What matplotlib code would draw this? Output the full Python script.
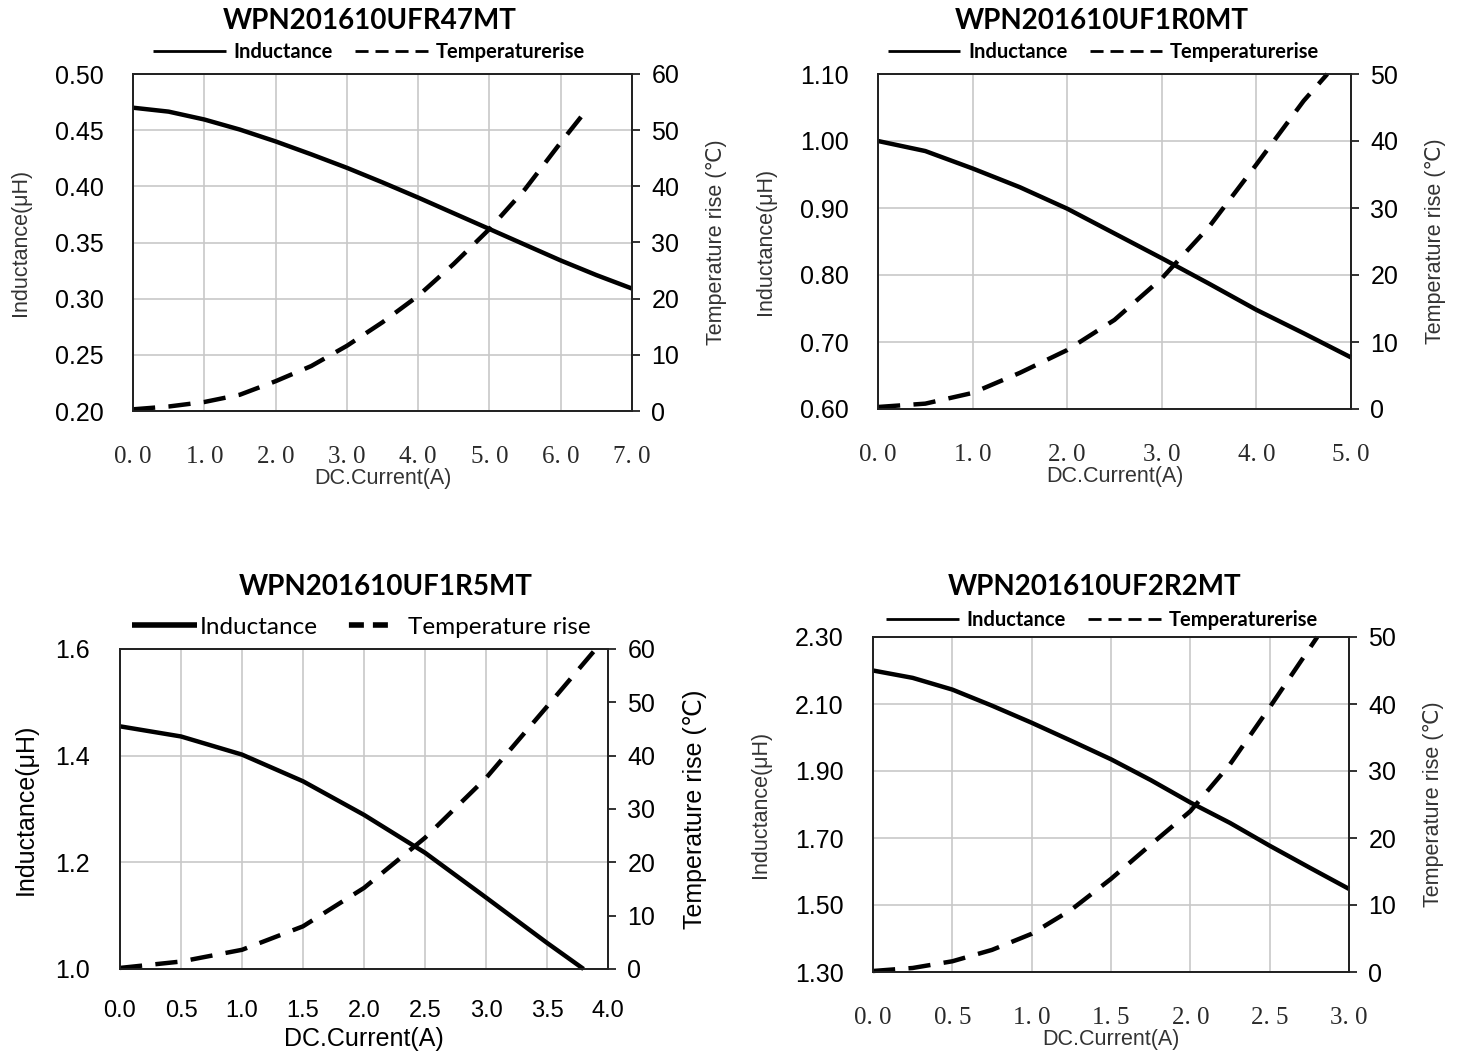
import matplotlib
matplotlib.use('Agg')
import matplotlib.pyplot as plt
from matplotlib.lines import Line2D

# WPN201610UFR47MT
ind_x1 = [0, 0.5, 1, 1.5, 2, 2.5, 3, 3.5, 4, 4.5, 5, 5.5, 6, 6.5, 7]
ind_y1 = [0.470, 0.4665, 0.4595, 0.4505, 0.440, 0.4285, 0.4165, 0.4035, 0.390, 0.376, 0.362, 0.348, 0.334, 0.321, 0.309]
tmp_x1 = [0, 0.5, 1, 1.5, 2, 2.5, 3, 3.5, 4, 4.5, 5, 5.5, 6, 6.3]
tmp_y1 = [0.3, 0.8, 1.6, 2.9, 5.3, 8.0, 11.6, 15.8, 20.5, 26.2, 32.4, 39.5, 47.8, 52.6]

# WPN201610UF1R0MT
ind_x2 = [0, 0.5, 1, 1.5, 2, 2.5, 3, 3.5, 4, 4.5, 5]
ind_y2 = [1.000, 0.985, 0.959, 0.931, 0.899, 0.862, 0.825, 0.787, 0.748, 0.713, 0.677]
tmp_x2 = [0, 0.5, 1, 1.5, 2, 2.5, 3, 3.5, 4, 4.5, 4.75]
tmp_y2 = [0.3, 0.8, 2.4, 5.4, 8.8, 13.3, 19.5, 27.2, 36.5, 46.0, 50.0]

# WPN201610UF1R5MT
ind_x3 = [0, 0.5, 1, 1.5, 2, 2.5, 3, 3.5, 3.8]
ind_y3 = [1.455, 1.436, 1.402, 1.352, 1.289, 1.218, 1.134, 1.049, 1.0]
tmp_x3 = [0, 0.5, 1, 1.5, 2, 2.5, 3, 3.5, 3.9]
tmp_y3 = [0.2, 1.4, 3.6, 8.0, 15.2, 24.6, 35.8, 49.2, 60.0]

# WPN201610UF2R2MT
ind_x4 = [0, 0.25, 0.5, 0.75, 1, 1.25, 1.5, 1.75, 2, 2.25, 2.5, 2.75, 3]
ind_y4 = [2.200, 2.178, 2.143, 2.095, 2.044, 1.990, 1.935, 1.873, 1.806, 1.745, 1.677, 1.612, 1.548]
tmp_x4 = [0, 0.25, 0.5, 0.75, 1, 1.25, 1.5, 1.75, 2, 2.25, 2.5, 2.8]
tmp_y4 = [0.15, 0.6, 1.6, 3.3, 5.7, 9.3, 13.9, 19.0, 24.0, 31.0, 39.5, 50.0]

titles = ['WPN201610UFR47MT', 'WPN201610UF1R0MT', 'WPN201610UF1R5MT', 'WPN201610UF2R2MT']

xticks1 = [0, 1, 2, 3, 4, 5, 6, 7]
xticks2 = [0, 1, 2, 3, 4, 5]
xticks3 = [0, 0.5, 1, 1.5, 2, 2.5, 3, 3.5, 4]
xticks4 = [0, 0.5, 1, 1.5, 2, 2.5, 3]
yticks1 = [0.20, 0.25, 0.30, 0.35, 0.40, 0.45, 0.50]
yticks2 = [0.60, 0.70, 0.80, 0.90, 1.00, 1.10]
yticks3 = [1.0, 1.2, 1.4, 1.6]
yticks4 = [1.30, 1.50, 1.70, 1.90, 2.10, 2.30]
tticks1 = [0, 10, 20, 30, 40, 50, 60]
tticks2 = [0, 10, 20, 30, 40, 50]

W, H = 1459, 1059
fig = plt.figure(figsize=(W / 100, H / 100), dpi=100)

SANS = ['Liberation Sans', 'DejaVu Sans']
TITLE = ['Lato', 'DejaVu Sans']


def box(l, t, r, b):
    return [l / W, 1 - b / H, (r - l) / W, (b - t) / H]


def panel(rect, title, ix, iy, tx, ty, xt, yt, yfmt, tt, big=False,
          title_pos=(0, 53), leg_pos=(0, 22)):
    l, t, r, b = rect
    w, h = r - l, b - t
    ax = fig.add_axes(box(l, t, r, b))
    ax2 = ax.twinx()
    ax.set_xlim(xt[0], xt[-1])
    ax.set_ylim(yt[0], yt[-1])
    ax2.set_ylim(tt[0], tt[-1])
    ax.set_xticks(xt)
    ax.set_yticks(yt)
    ax2.set_yticks(tt)
    ax.grid(True, color='#c8c8c8', lw=1.2)
    ax.set_axisbelow(True)
    for sp in list(ax.spines.values()) + list(ax2.spines.values()):
        sp.set_color('#222222')
        sp.set_linewidth(1.3)
    ax.tick_params(axis='both', length=0)
    ax2.tick_params(axis='y', length=6, width=1.3, color='#222222', pad=8)
    ax.set_yticklabels([yfmt % v for v in yt], family=SANS, fontsize=18)
    ax2.set_yticklabels([str(v) for v in tt], family=SANS, fontsize=18)
    if big:
        ax.tick_params(axis='y', pad=22)
        ax.set_xticklabels(['%.1f' % v for v in xt], family=SANS, fontsize=17)
        ax.tick_params(axis='x', pad=22)
        ax.set_xlabel('DC.Current(A)', family=SANS, fontsize=18, labelpad=4)
        ax.set_ylabel('Inductance(μH)', family=SANS, fontsize=18, labelpad=12)
        ax2.set_ylabel('Temperature rise (℃)', family=SANS, fontsize=18, labelpad=20)
    else:
        ax.tick_params(axis='y', pad=21)
        ax.set_xticklabels([('%.1f' % v).replace('.', '. ') for v in xt],
                           family=['Liberation Serif'], fontsize=18, color='#2a2a2a')
        ax.tick_params(axis='x', pad=25.5)
        ax.set_xlabel('DC.Current(A)', family=SANS, fontsize=15.5, color='#333333', labelpad=0)
        ax.set_ylabel('Inductance(μH)', family=SANS, fontsize=15.5, color='#333333', labelpad=17)
        ax2.set_ylabel('Temperature rise (℃)', family=SANS, fontsize=15.5, color='#333333', labelpad=19)

    ax.plot(ix, iy, color='black', lw=3.2, solid_capstyle='butt', clip_on=False, zorder=3)
    ax2.plot(tx, ty, color='black', lw=3.2, ls=(0, (5, 3)), dash_capstyle='butt', clip_on=False)

    ax.text(0.5 + title_pos[0] / w, 1.0 + title_pos[1] / h, title, transform=ax.transAxes,
            ha='center', va='center', family=TITLE, fontweight='bold', fontsize=20)
    anchor = (0.5 + leg_pos[0] / w, 1.0 + leg_pos[1] / h)
    if big:
        hs = [Line2D([], [], color='black', lw=4, solid_capstyle='butt'),
              Line2D([], [], color='black', lw=4, ls=(11.7, (2.7, 1.62, 2.7, 6.1)))]
        labs = ['Inductance', 'Temperature rise']
        ax.legend(hs, labs, loc='center', bbox_to_anchor=anchor, ncol=2,
                  frameon=False, prop={'family': TITLE, 'size': 17.5}, handlelength=2.67,
                  handletextpad=0.1, columnspacing=0.95, borderaxespad=0)
    else:
        hs = [Line2D([], [], color='black', lw=2, solid_capstyle='butt'),
              Line2D([], [], color='black', lw=2, ls=(0, (4.7, 2.5)))]
        labs = ['Inductance', 'Temperaturerise']
        ax.legend(hs, labs, loc='center', bbox_to_anchor=anchor, ncol=2,
                  frameon=False, prop={'family': TITLE, 'size': 14.5, 'weight': 'bold'},
                  handlelength=3.6, handletextpad=0.4, columnspacing=1.1, borderaxespad=0)
    return ax, ax2


panel((133, 74, 632, 411), titles[0], ind_x1, ind_y1, tmp_x1, tmp_y1, xticks1, yticks1, '%.2f', tticks1,
      title_pos=(-12.5, 53), leg_pos=(-13.5, 22))
panel((878, 74, 1351, 409), titles[1], ind_x2, ind_y2, tmp_x2, tmp_y2, xticks2, yticks2, '%.2f', tticks2,
      title_pos=(-12.5, 53), leg_pos=(-11, 22))
panel((120, 649, 608, 969), titles[2], ind_x3, ind_y3, tmp_x3, tmp_y3, xticks3, yticks3, '%.1f', tticks1,
      big=True, title_pos=(22, 62), leg_pos=(-2.5, 22))
panel((873, 637, 1349, 972), titles[3], ind_x4, ind_y4, tmp_x4, tmp_y4, xticks4, yticks4, '%.2f', tticks2,
      title_pos=(-16, 50), leg_pos=(-9, 17))

fig.savefig('out.png', dpi=100, facecolor='white')
